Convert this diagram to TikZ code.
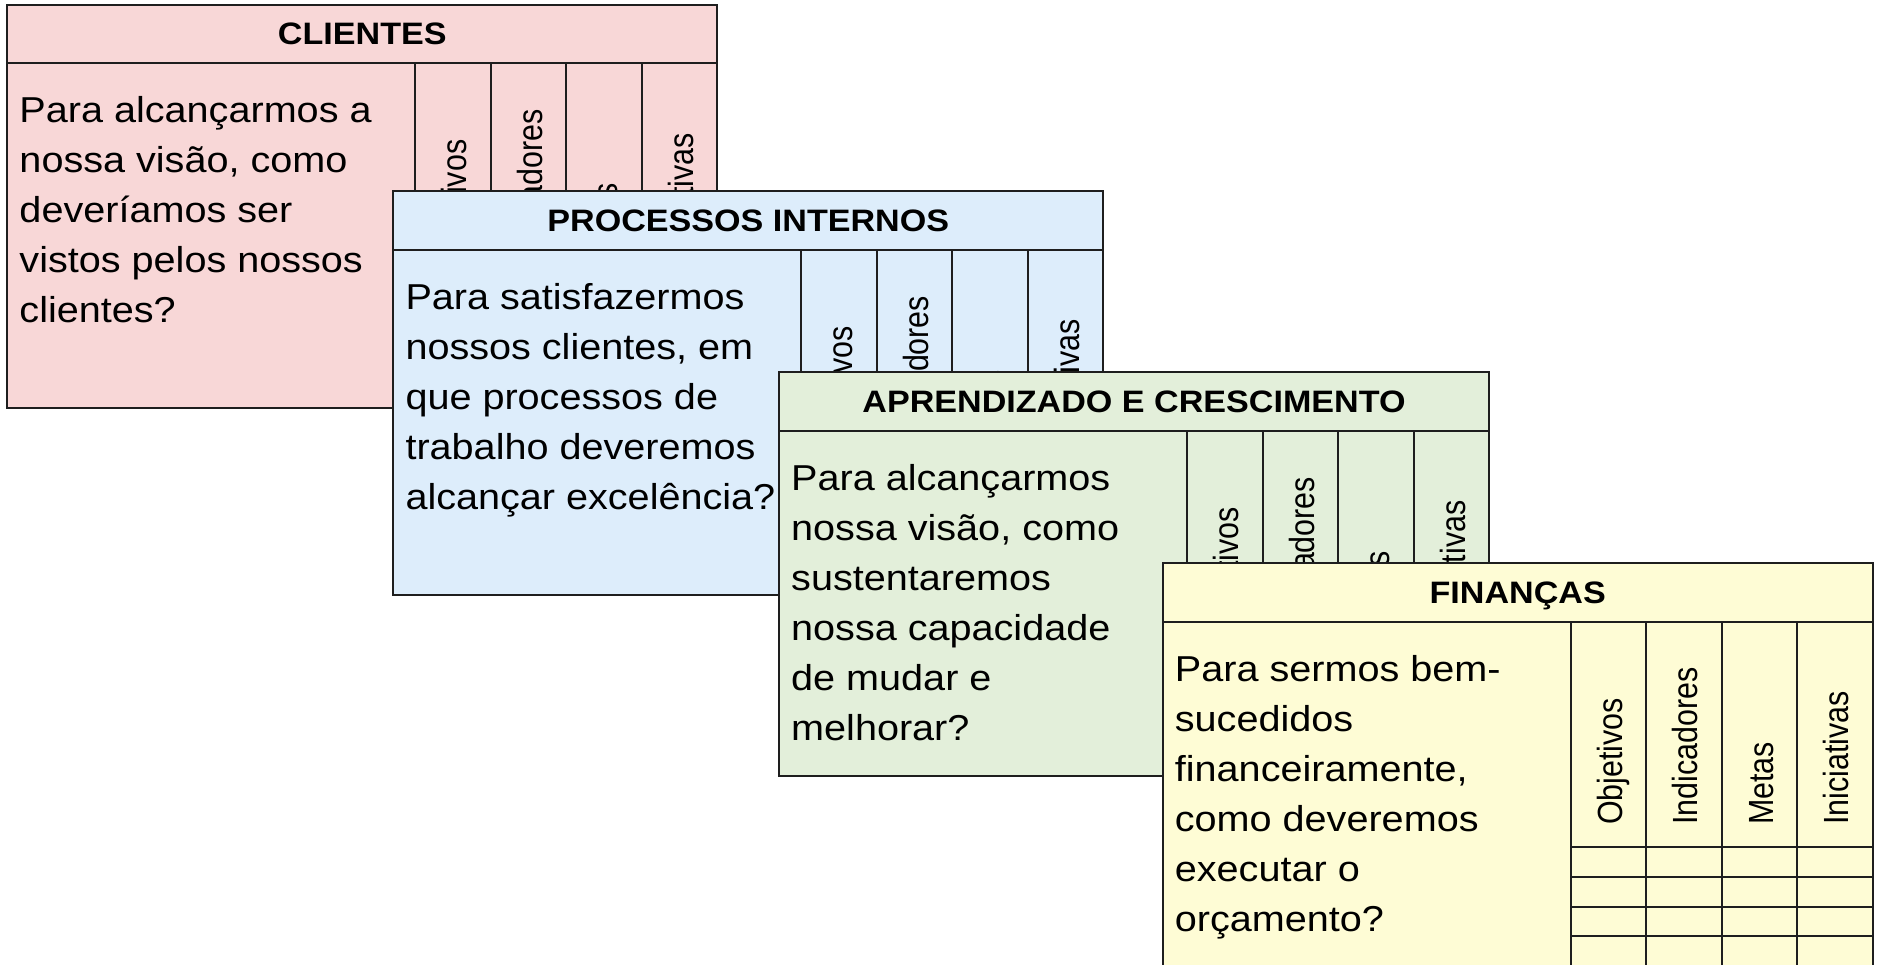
\documentclass[tikz,border=0pt]{standalone}
\usepackage{fontspec}
\setmainfont[FakeStretch=1.1]{Liberation Sans}
\newfontfamily\lblfont{Liberation Sans}
\usepackage{graphicx}

\definecolor{pinkfill}{RGB}{248,215,215}
\definecolor{bluefill}{RGB}{221,237,251}
\definecolor{greenfill}{RGB}{227,239,218}
\definecolor{yellowfill}{RGB}{254,252,213}
\definecolor{linec}{RGB}{30,30,30}

\tikzset{
  cardline/.style={draw=linec, line width=2pt},
  titletext/.style={font=\fontsize{31}{36}\selectfont\bfseries, anchor=base, inner sep=0pt},
  qtext/.style={font=\fontsize{36}{42}\selectfont, anchor=base west, inner sep=0pt},
  lbltext/.style={font=\lblfont\fontsize{30.4}{36}\selectfont, anchor=base west, inner sep=0pt, rotate=90},
}

\newcommand\drawcard[6]{%
  \begin{scope}[shift={(#2,#3)}]
    \path[cardline, fill=#4] (0,0) rectangle (710,403.6);
    \draw[cardline] (0,58.7) -- (710,58.7);
    \foreach \cx in {408,483.5,559,634.5} \draw[cardline] (\cx,58.7) -- (\cx,403.6);
    \foreach \ry in {284.3,313.9,343.5,373.1} \draw[cardline] (408,\ry) -- (710,\ry);
    \node[titletext] (#1-title) at (355,40) {#5};
    \foreach \l [count=\i] in {#6} \node[qtext] (#1-q\i) at (12,{118+50*(\i-1)}) {\l};
    \node[lbltext] (#1-l1) at (459.5,262) {\scalebox{1}[1.15]{Objetivos}};
    \node[lbltext] (#1-l2) at (535,262) {\scalebox{1}[1.15]{Indicadores}};
    \node[lbltext] (#1-l3) at (610.5,262) {\scalebox{1}[1.15]{Metas}};
    \node[lbltext] (#1-l4) at (686,262) {\scalebox{1}[1.15]{Iniciativas}};
  \end{scope}}

\begin{document}
\begin{tikzpicture}[x=1pt,y=-1pt]
  \clip (0,0) rectangle (1877,964);
  \fill[white] (0,0) rectangle (1877,964);
  \drawcard{cli}{7.3}{4.7}{pinkfill}{CLIENTES}{{Para alcançarmos a},{nossa visão, como},{deveríamos ser},{vistos pelos nossos},{clientes?}}
  \drawcard{pro}{393.3}{191.3}{bluefill}{PROCESSOS INTERNOS}{{Para satisfazermos},{nossos clientes, em},{que processos de},{trabalho deveremos},{alcançar excelência?}}
  \drawcard{apr}{779}{372.3}{greenfill}{APRENDIZADO E CRESCIMENTO}{{Para alcançarmos},{nossa visão, como},{sustentaremos},{nossa capacidade},{de mudar e},{melhorar?}}
  \drawcard{fin}{1162.7}{563}{yellowfill}{FINANÇAS}{{Para sermos bem-},{sucedidos},{financeiramente,},{como deveremos},{executar o},{orçamento?}}
\end{tikzpicture}
\end{document}
